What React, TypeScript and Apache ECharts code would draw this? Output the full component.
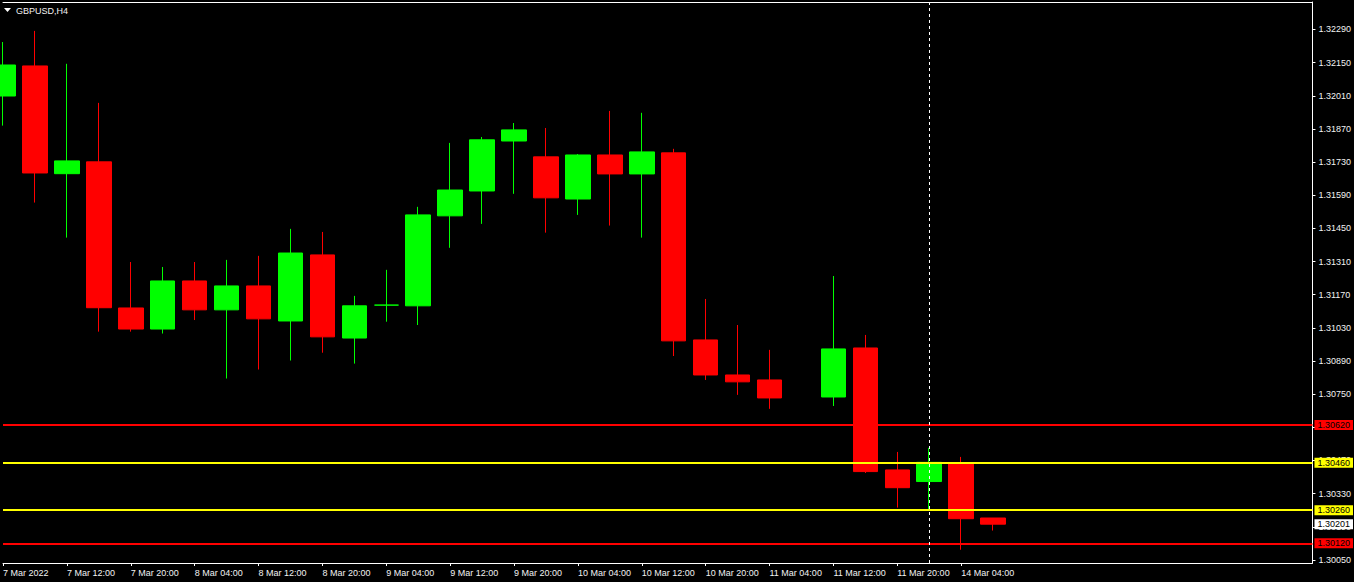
import React, { useEffect, useRef } from "react";
import * as echarts from "echarts";

const symbolTitle = "GBPUSD,H4";

// H4 bar times (index 0 = 7 Mar 2022 04:00)
const categories = [
  "7 Mar 04:00", "7 Mar 08:00", "7 Mar 12:00", "7 Mar 16:00", "7 Mar 20:00",
  "8 Mar 00:00", "8 Mar 04:00", "8 Mar 08:00", "8 Mar 12:00", "8 Mar 16:00", "8 Mar 20:00",
  "9 Mar 00:00", "9 Mar 04:00", "9 Mar 08:00", "9 Mar 12:00", "9 Mar 16:00", "9 Mar 20:00",
  "10 Mar 00:00", "10 Mar 04:00", "10 Mar 08:00", "10 Mar 12:00", "10 Mar 16:00", "10 Mar 20:00",
  "11 Mar 00:00", "11 Mar 04:00", "11 Mar 08:00", "11 Mar 12:00", "11 Mar 16:00", "11 Mar 20:00",
  "14 Mar 00:00", "14 Mar 04:00", "14 Mar 08:00",
];
// empty future slots (chart shift area)
const futureSlots = [
  "14 Mar 12:00", "14 Mar 16:00", "14 Mar 20:00", "15 Mar 00:00", "15 Mar 04:00",
  "15 Mar 08:00", "15 Mar 12:00", "15 Mar 16:00", "15 Mar 20:00", "16 Mar 00:00",
];
const firstLabel = "7 Mar 2022";

const opens = [1.32009, 1.32136, 1.31681, 1.31731, 1.31114, 1.31025, 1.31228, 1.31106, 1.31207, 1.31059, 1.31338, 1.30987, 1.31126, 1.31123, 1.31503, 1.31608, 1.31819, 1.31752, 1.31574, 1.31760, 1.31680, 1.31769, 1.30979, 1.30831, 1.30810, null, 1.30738, 1.30945, 1.30430, 1.30381, 1.30460, 1.30227];
const closes = [1.32140, 1.31684, 1.31735, 1.31115, 1.31025, 1.31228, 1.31106, 1.31207, 1.31068, 1.31346, 1.30992, 1.31123, 1.31126, 1.31507, 1.31612, 1.31824, 1.31866, 1.31579, 1.31760, 1.31680, 1.31773, 1.30975, 1.30831, 1.30802, 1.30734, null, 1.30941, 1.30423, 1.30355, 1.30462, 1.30224, 1.30201];
const lows = [1.31884, 1.31559, 1.31411, 1.31014, 1.31014, 1.31006, 1.31063, 1.30816, 1.30854, 1.30892, 1.30925, 1.30879, 1.31056, 1.31042, 1.31368, 1.31469, 1.31596, 1.31432, 1.31507, 1.31462, 1.31411, 1.30911, 1.30810, 1.30747, 1.30688, null, 1.30700, 1.30417, 1.30271, 1.30265, 1.30093, 1.30174];
const highs = [1.32237, 1.32284, 1.32145, 1.31980, 1.31308, 1.31287, 1.31308, 1.31317, 1.31334, 1.31448, 1.31435, 1.31165, 1.31275, 1.31541, 1.31811, 1.31836, 1.31895, 1.31874, 1.31764, 1.31946, 1.31938, 1.31786, 1.31152, 1.31042, 1.30937, null, 1.31249, 1.31000, 1.30506, 1.30523, 1.30485, 1.30227];

const priceTicks = [1.32290, 1.32150, 1.32010, 1.31870, 1.31730, 1.31590, 1.31450, 1.31310, 1.31170, 1.31030, 1.30890, 1.30750, 1.30610, 1.30470, 1.30330, 1.30190, 1.30050];
const priceMin = 1.30037;
const priceMax = 1.32406;

const levelPrices = [1.30620, 1.30460, 1.30260, 1.30120];
const levelColors = ["#ff0000", "#ffff00", "#ffff00", "#ff0000"];
const separatorBar = "14 Mar 00:00";

const FONT = "Liberation Sans, Arial, sans-serif";
const TEXT = "#f2f2f2";

function priceLabel(text: string, bg: string) {
  return {
    show: true,
    position: "end",
    distance: 2,
    formatter: text,
    color: "#000",
    backgroundColor: bg,
    padding: [1, 3, 0, 3],
    fontSize: 9,
    lineHeight: 9,
    fontFamily: FONT,
    opacity: 1,
  };
}

export default function App() {
  const ref = useRef<HTMLDivElement>(null);

  useEffect(() => {
    if (!ref.current) return;
    const chart = echarts.init(ref.current, null, { renderer: "svg" });
    const allCats = categories.concat(futureSlots);
    const data = opens.map((o, i) =>
      o == null ? ["-", "-", "-", "-"] : [o, closes[i], lows[i], highs[i]]
    );
    const lastPrice = closes[closes.length - 1] as number;
    const showIdx = (index: number) => index % 2 === 0 && index < categories.length;
    const emptyLine = allCats.map(() => "-");

    const makeMarkSeries = (name: string, z: number, item: any) => ({
      type: "line",
      name,
      data: emptyLine,
      symbol: "none",
      silent: true,
      z,
      markLine: {
        silent: true,
        symbol: ["none", "none"],
        precision: 5,
        animation: false,
        data: [item],
      },
    });

    const levelSeries: any[] = levelPrices.map((p, i) =>
      makeMarkSeries("level" + i, 5, {
        yAxis: p,
        lineStyle: { color: levelColors[i], width: 2, type: "solid" },
        label: priceLabel(p.toFixed(5), levelColors[i]),
      })
    );
    levelSeries.push(
      makeMarkSeries("bid", 6, {
        yAxis: lastPrice,
        lineStyle: { color: "rgba(0,0,0,0)", width: 1, type: "solid" },
        label: priceLabel(lastPrice.toFixed(5), "#ffffff"),
      })
    );
    levelSeries.push(
      makeMarkSeries("separator", 1, {
        xAxis: separatorBar,
        lineStyle: { color: "#ffffff", width: 1, type: [3, 3] },
        label: { show: false },
      })
    );

    chart.setOption({
      animation: false,
      backgroundColor: "#000000",
      textStyle: { fontFamily: FONT },
      grid: { left: 1, right: 40, top: 2, bottom: 19, containLabel: false },
      graphic: [
        {
          type: "polygon",
          shape: { points: [[4, 8], [11, 8], [7.5, 12]] },
          style: { fill: "#ffffff" },
        },
        {
          type: "text",
          x: 16,
          y: 11,
          style: {
            text: symbolTitle,
            fill: TEXT,
            font: `9px ${FONT}`,
            verticalAlign: "middle",
            align: "left",
          },
        },
      ],
      xAxis: [
        {
          type: "category",
          data: allCats,
          boundaryGap: false,
          axisLine: { show: true, lineStyle: { color: "#ffffff", width: 1 } },
          axisTick: {
            show: true,
            interval: (index: number) => showIdx(index),
            length: 3,
            lineStyle: { color: "#ffffff" },
          },
          axisLabel: {
            show: true,
            interval: (index: number) => showIdx(index),
            formatter: (value: string, index: number) => (index === 0 ? firstLabel : value),
            align: "left",
            color: TEXT,
            fontSize: 9,
            fontFamily: FONT,
            margin: 5,
          },
          splitLine: { show: false },
        },
        {
          type: "category",
          data: allCats,
          position: "top",
          boundaryGap: false,
          axisLine: { show: true, lineStyle: { color: "#ffffff", width: 1 } },
          axisTick: { show: false },
          axisLabel: { show: false },
          splitLine: { show: false },
        },
      ],
      yAxis: {
        type: "value",
        position: "right",
        min: priceMin,
        max: priceMax,
        scale: true,
        axisLine: { show: true, lineStyle: { color: "#ffffff", width: 1 } },
        axisTick: {
          show: true,
          customValues: priceTicks,
          length: 3,
          lineStyle: { color: "#ffffff" },
        },
        axisLabel: {
          show: true,
          customValues: priceTicks,
          formatter: (v: number) => v.toFixed(5),
          color: TEXT,
          fontSize: 9,
          fontFamily: FONT,
          margin: 6,
        },
        splitLine: { show: false },
      },
      series: [
        {
          type: "candlestick",
          data,
          barWidth: 25,
          z: 3,
          itemStyle: {
            color: "#00ff00",
            color0: "#ff0000",
            borderColor: "#00ff00",
            borderColor0: "#ff0000",
            borderColorDoji: "#00ff00",
            borderWidth: 1,
          },
        },
        ...levelSeries,
      ],
    });

    return () => chart.dispose();
  }, []);

  return (
    <div
      ref={ref}
      style={{ position: "fixed", left: 0, top: 0, width: 1354, height: 582, background: "#000" }}
    />
  );
}
